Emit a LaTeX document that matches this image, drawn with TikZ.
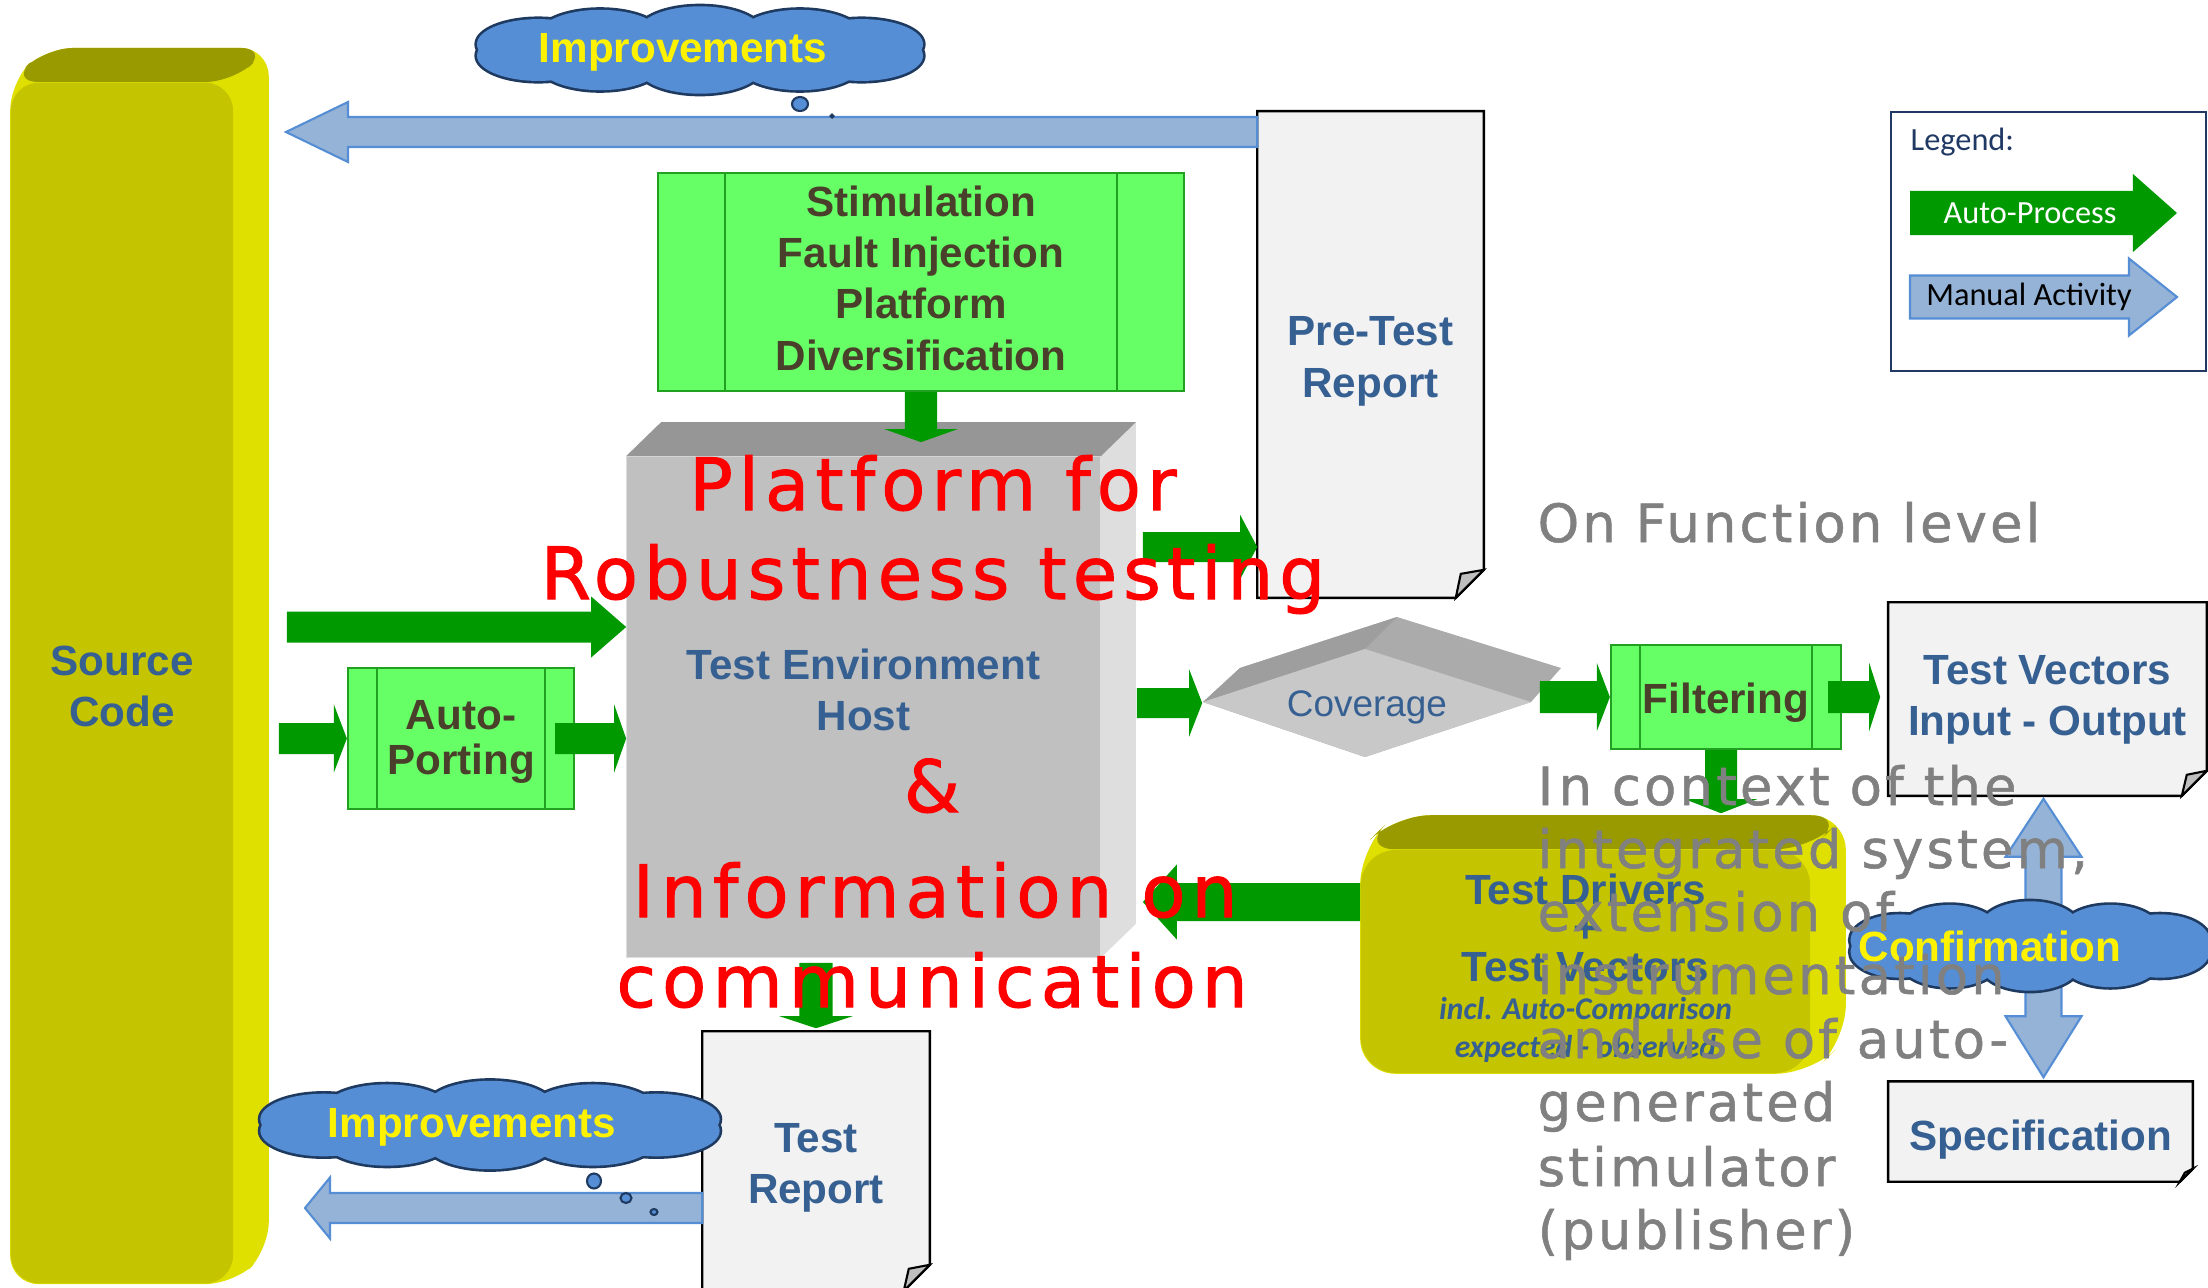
\documentclass[tikz,border=0pt]{standalone}
\usepackage{fontspec}
\setmainfont{Liberation Sans}
\newfontfamily\legendfont{Carlito}
\newfontfamily\widered[LetterSpace=8.5, FakeBold=1.4]{DejaVu Sans}
\newfontfamily\widegray[LetterSpace=6, FakeBold=1]{DejaVu Sans}
\usetikzlibrary{calc,backgrounds}

\definecolor{autoGreen}{HTML}{009900}
\definecolor{boxGreen}{HTML}{66FF66}
\definecolor{boxLine}{HTML}{22A022}
\definecolor{brownText}{HTML}{4A3F2A}
\definecolor{blueText}{HTML}{376092}
\definecolor{manualFill}{HTML}{95B3D7}
\definecolor{manualLine}{HTML}{558ED5}
\definecolor{cloudFill}{HTML}{558ED5}
\definecolor{cloudLine}{HTML}{1F3A60}
\definecolor{yFront}{HTML}{C4C400}
\definecolor{yTop}{HTML}{999900}
\definecolor{ySide}{HTML}{E0E000}
\definecolor{gFront}{HTML}{C0C0C0}
\definecolor{gTop}{HTML}{969696}
\definecolor{gSide}{HTML}{DEDEDE}
\definecolor{docFill}{HTML}{F2F2F2}
\definecolor{foldFill}{HTML}{BFBFBF}
\definecolor{legendLine}{HTML}{1F3864}
\definecolor{grayText}{HTML}{808080}
\definecolor{diaDark}{HTML}{9E9E9E}
\definecolor{diaMid}{HTML}{ABABAB}
\definecolor{diaFace}{HTML}{C8C8C8}

% block arrow: style, tail, tip, half shaft, head length, half head
\newcommand\blockarrow[6]{%
  \coordinate (ba-head) at ($(#3)!#5!(#2)$);
  \path[#1] ($(#2)!#4!90:(#3)$) -- ($(ba-head)!#4!90:(#3)$) -- ($(ba-head)!#6!90:(#3)$)
    -- (#3) -- ($(ba-head)!#6!-90:(#3)$) -- ($(ba-head)!#4!-90:(#3)$) -- ($(#2)!#4!-90:(#3)$) -- cycle;}

% extruded solid behind a front face: node, side colour, top colour, corner radius
\newcommand\extrude[4]{%
  \fill[#2, rounded corners=#4] (#1.south west) -- (#1.north west) -- ($(#1.north west)+(35,-34)$)
    -- ($(#1.north east)+(35,-34)$) -- ($(#1.south east)+(35,-34)$) -- (#1.south east) -- cycle;
  \fill[#3, rounded corners=#4] (#1.north west) -- ($(#1.north west)+(35,-34)$)
    -- ($(#1.north east)+(35,-34)$) -- (#1.north east) -- cycle;}

% document sheet with a folded lower right corner: node, fold size
\newcommand\docsheet[2]{%
  \filldraw[fill=docFill, draw=black, line width=0.7pt] (#1.north west) -- (#1.north east)
    -- ($(#1.south east)+(0,-#2)$) -- ($(#1.south east)+(-#2,0)$) -- (#1.south west) -- cycle;
  \filldraw[fill=foldFill, draw=black, line width=0.6pt] ($(#1.south east)+(0,-#2)$)
    -- ($(#1.south east)+(-#2,0)$) -- ($(#1.south east)+(-#2+5,-#2+4)$) -- cycle;}

% thought cloud made of overlapping puffs: centre x, centre y, width, height (all px)
\newcommand\puffcloud[4]{%
  \foreach \k in {0,...,9}{%
    \pgfmathsetmacro\px{#1+0.36*#3*cos(18+36*\k)}%
    \pgfmathsetmacro\py{#2+0.22*#4*sin(18+36*\k)}%
    \pgfmathsetmacro\rx{0.13*#3*0.28453}%
    \pgfmathsetmacro\ry{0.3*#4*0.28453}%
    \filldraw[fill=cloudFill, draw=cloudLine, line width=1.5pt] (\px,\py) ellipse [x radius=\rx pt, y radius=\ry pt];}
  \foreach \k in {0,...,9}{%
    \pgfmathsetmacro\px{#1+0.36*#3*cos(18+36*\k)}%
    \pgfmathsetmacro\py{#2+0.22*#4*sin(18+36*\k)}%
    \pgfmathsetmacro\rx{0.13*#3*0.28453}%
    \pgfmathsetmacro\ry{0.3*#4*0.28453}%
    \fill[cloudFill] (\px,\py) ellipse [x radius=\rx pt, y radius=\ry pt];}
  \pgfmathsetmacro\cx{0.38*#3*0.28453}%
  \pgfmathsetmacro\cy{0.3*#4*0.28453}%
  \fill[cloudFill] (#1,#2) ellipse [x radius=\cx pt, y radius=\cy pt];}

\begin{document}
\begin{tikzpicture}[x=0.01cm, y=-0.01cm,
  lbl/.style={font=\fontsize{12}{14.6}\selectfont\bfseries, align=center, inner sep=0},
  yfront/.style={fill=yFront, inner sep=0},
  gfront/.style={fill=gFront, inner sep=0},
  gbox/.style={draw=boxLine, fill=boxGreen, line width=0.6pt, inner sep=0,
    path picture={
      \draw[boxLine, line width=0.6pt] ([xshift=#1]path picture bounding box.north west)
        -- ([xshift=#1]path picture bounding box.south west);
      \draw[boxLine, line width=0.6pt] ([xshift=-#1]path picture bounding box.north east)
        -- ([xshift=-#1]path picture bounding box.south east);}},
  bluelbl/.style={lbl, text=blueText},
  brownlbl/.style={lbl, text=brownText},
  docnode/.style={inner sep=0},
  autofill/.style={fill=autoGreen},
  manual/.style={fill=manualFill, draw=manualLine, line width=0.6pt},
  cloudtxt/.style={text=yellow, font=\fontsize{12}{14}\selectfont\bfseries, inner sep=0},
  bubble/.style={fill=cloudFill, draw=cloudLine, line width=0.6pt},
  legtxt/.style={font=\legendfont\fontsize{9.2}{11}\selectfont, inner sep=0},
  redtxt/.style={text=red, font=\widered\fontsize{20.5}{24}\selectfont, inner sep=0, anchor=base},
  graytxt/.style={text=grayText, font=\widegray\fontsize{15}{18}\selectfont, inner sep=0, anchor=base west}]

\useasboundingbox (0,0) rectangle (2208,1287);

% ---- solid blocks (front faces) ----
\node[yfront, rounded corners=0.28cm, minimum width=2.22cm, minimum height=12cm,
  label={[bluelbl, yshift=-0.035cm]center:{Source\\Code}}] (src) at (122,683) {};
\node[gfront, minimum width=4.73cm, minimum height=5cm,
  label={[bluelbl, yshift=0.17cm]center:{Test Environment\\Host}}] (tenv) at (863.5,707) {};
\node[yfront, rounded corners=0.35cm, minimum width=4.49cm, minimum height=2.23cm,
  label={[bluelbl, font=\fontsize{12}{10.9}\selectfont\bfseries, yshift=-0.07cm]center:{Test Drivers\\+\\Test Vectors\\{\legendfont\itshape\fontsize{9}{10.9}\selectfont incl. Auto-Comparison}\\{\legendfont\itshape\fontsize{9}{10.9}\selectfont expected - observed}}}] (tdrv) at (1585.5,961.5) {};

% ---- coverage tile ----
\fill[diaMid] (1203,702) -- (1240,668) -- (1397,617) -- (1561,668) -- (1531,702) -- (1365,757) -- cycle;
\fill[diaDark] (1203,702) -- (1240,668) -- (1397,617) -- (1365,649) -- cycle;
\fill[diaFace] (1203,702) -- (1365,649) -- (1531,702) -- (1365,757) -- cycle;
\node[inner sep=0, minimum width=3.28cm, minimum height=1.08cm,
  label={[text=blueText, font=\fontsize{10.5}{12}\selectfont, inner sep=0, yshift=-0.04cm]center:Coverage}] (cov) at (1367,703) {};

% ---- process boxes ----
\node[gbox=0.67cm, minimum width=5.26cm, minimum height=2.18cm,
  label={[brownlbl, yshift=0.04cm]center:{Stimulation\\Fault Injection\\Platform\\Diversification}}] (stim) at (921,282) {};
\node[gbox=0.29cm, minimum width=2.26cm, minimum height=1.41cm,
  label={[brownlbl, font=\fontsize{12}{12.8}\selectfont\bfseries, yshift=-0.035cm]center:{Auto-\\Porting}}] (port) at (461,738.5) {};
\node[gbox=0.29cm, minimum width=2.3cm, minimum height=1.04cm,
  label={[brownlbl, yshift=-0.056cm]center:Filtering}] (filt) at (1726,697) {};

% ---- documents ----
\node[docnode, minimum width=2.25cm, minimum height=4.85cm,
  label={[bluelbl, yshift=-0.07cm]center:{Pre-Test\\Report}}] (pretest) at (1370.5,354.5) {};
\node[docnode, minimum width=3.17cm, minimum height=1.92cm,
  label={[bluelbl, yshift=-0.01cm]center:{Test Vectors\\Input - Output}}] (tvec) at (2047.5,699) {};
\node[docnode, minimum width=3.03cm, minimum height=0.99cm,
  label={[bluelbl, yshift=-0.085cm]center:Specification}] (spec) at (2040.5,1131.5) {};
\node[docnode, minimum width=2.26cm, minimum height=2.58cm,
  label={[bluelbl, yshift=-0.07cm]center:{Test\\Report}}] (trep) at (816,1161) {};

\begin{scope}[on background layer]
  \extrude{src}{ySide}{yTop}{0.28cm}
  \extrude{tdrv}{ySide}{yTop}{0.35cm}
  \extrude{tenv}{gSide}{gTop}{0pt}
  \docsheet{pretest}{28}
  \docsheet{tvec}{25}
  \docsheet{spec}{13}
  \docsheet{trep}{26}
\end{scope}

% ---- automatic process arrows ----
\coordinate (a1s) at (stim.south);
\coordinate (a1t) at ($(stim.south |- tenv.north)+(0,-14)$);
\blockarrow{autofill}{a1s}{a1t}{0.16cm}{0.13cm}{0.365cm}
\coordinate (a2s) at ($(src.east)+(53,-56)$);
\coordinate (a2t) at (tenv.west |- a2s);
\blockarrow{autofill}{a2s}{a2t}{0.155cm}{0.35cm}{0.305cm}
\coordinate (a3s) at ($(src.east |- port.west)+(45,0)$);
\blockarrow{autofill}{a3s}{port.west}{0.155cm}{0.13cm}{0.34cm}
\coordinate (a4s) at ($(port.east)+(-20,0)$);
\coordinate (a4t) at (tenv.west |- port.east);
\blockarrow{autofill}{a4s}{a4t}{0.155cm}{0.12cm}{0.34cm}
\coordinate (a5s) at ($(tenv.east)+(42,-160)$);
\coordinate (a5t) at (pretest.west |- a5s);
\blockarrow{autofill}{a5s}{a5t}{0.15cm}{0.17cm}{0.32cm}
\coordinate (a6s) at ($(tenv.east |- cov.west)+(36,0)$);
\blockarrow{autofill}{a6s}{cov.west}{0.15cm}{0.13cm}{0.335cm}
\coordinate (a7s) at ($(cov.east |- filt.west)+(8,0)$);
\blockarrow{autofill}{a7s}{filt.west}{0.16cm}{0.13cm}{0.34cm}
\coordinate (a8s) at ($(filt.east)+(-14,0)$);
\coordinate (a8t) at ($(tvec.west |- filt.east)+(-8,0)$);
\blockarrow{autofill}{a8s}{a8t}{0.16cm}{0.11cm}{0.34cm}
\coordinate (a9s) at ($(filt.south)+(-5,0)$);
\coordinate (a9t) at ($(a9s |- tdrv.north)+(0,-36)$);
\blockarrow{autofill}{a9s}{a9t}{0.16cm}{0.14cm}{0.36cm}
\coordinate (a10s) at ($(tdrv.west)+(0,-59.5)$);
\coordinate (a10t) at ($(tenv.east |- a10s)+(42,0)$);
\blockarrow{autofill}{a10s}{a10t}{0.19cm}{0.34cm}{0.375cm}
\coordinate (a11s) at ($(tenv.south -| trep.north)+(0,5)$);
\coordinate (a11t) at ($(trep.north)+(0,-3)$);
\blockarrow{autofill}{a11s}{a11t}{0.165cm}{0.12cm}{0.365cm}

% ---- manual activity arrows ----
\coordinate (upTip) at (286,132);
\coordinate (m1s) at (pretest.west |- upTip);
\blockarrow{manual}{m1s}{upTip}{0.15cm}{0.62cm}{0.30cm}
\coordinate (downTip) at (305,1208);
\coordinate (m2s) at (trep.west |- downTip);
\blockarrow{manual}{m2s}{downTip}{0.15cm}{0.25cm}{0.305cm}
\coordinate (dA) at ($(tvec.south)+(-4,3)$);
\coordinate (dB) at ($(dA |- spec.north)+(0,-4)$);
\draw[manual] (dA) -- ($(dA)+(38,58)$) -- ($(dA)+(18,58)$) -- ($(dB)+(18,-61)$) -- ($(dB)+(38,-61)$)
  -- (dB) -- ($(dB)+(-38,-61)$) -- ($(dB)+(-18,-61)$) -- ($(dA)+(-18,58)$) -- ($(dA)+(-38,58)$) -- cycle;

% ---- clouds ----
\puffcloud{700}{50}{472}{84}
\node[cloudtxt] (imp1) at (683,52) {Improvements};
\filldraw[bubble] (800,104) ellipse [x radius=0.08cm, y radius=0.07cm];
\filldraw[bubble] (832,116) circle [radius=0.015cm];
\puffcloud{490}{1125}{486}{85}
\node[cloudtxt] (imp2) at (472,1127) {Improvements};
\filldraw[bubble] (594,1181) ellipse [x radius=0.07cm, y radius=0.075cm];
\filldraw[bubble] (626,1198) ellipse [x radius=0.055cm, y radius=0.05cm];
\filldraw[bubble] (654,1212) ellipse [x radius=0.035cm, y radius=0.03cm];
\puffcloud{2030}{946}{380}{86}
\node[cloudtxt] (conf) at (1990,946) {Confirmation};

% ---- legend ----
\node[draw=legendLine, line width=0.7pt, minimum width=3.15cm, minimum height=2.59cm, inner sep=0] (legend) at (2048.5,241.5) {};
\node[legtxt, text=legendLine, anchor=west] (legtitle) at (1910,142) {Legend:};
\coordinate (lgA) at (1910,213);
\coordinate (lgB) at (2177,213);
\blockarrow{autofill}{lgA}{lgB}{0.22cm}{0.44cm}{0.39cm}
\node[legtxt, text=white] (legauto) at (2030,213) {Auto-Process};
\coordinate (lgC) at (1910,297);
\coordinate (lgD) at (2177,297);
\blockarrow{manual}{lgC}{lgD}{0.215cm}{0.48cm}{0.385cm}
\node[legtxt, text=black] (legman) at (2029,297) {Manual Activity};

% ---- scope notes ----
\node[graytxt] (fn) at (1537,542) {On Function level};
\node[graytxt] (ctx1) at (1537,805) {I\kern0.1em n context of the};
\node[graytxt] (ctx2) at (1537,868) {integrated system,};
\node[graytxt] (ctx3) at (1537,931) {extension of};
\node[graytxt] (ctx4) at (1537,994) {instrumentation};
\node[graytxt] (ctx5) at (1537,1058) {and use of auto-};
\node[graytxt] (ctx6) at (1537,1121) {generated};
\node[graytxt] (ctx7) at (1537,1186) {stimulator};
\node[graytxt] (ctx8) at (1537,1249) {(publisher)};

% ---- headline ----
\node[redtxt] (hl1) at (933,510) {Platform for};
\node[redtxt] (hl2) at (933,599) {Robustness testing};
\node[redtxt] (hl3) at (932,812) {\&};
\node[redtxt] (hl4) at (935,917) {I\kern0.1em nformation on};
\node[redtxt] (hl5) at (932,1007) {communication};
\end{tikzpicture}
\end{document}
